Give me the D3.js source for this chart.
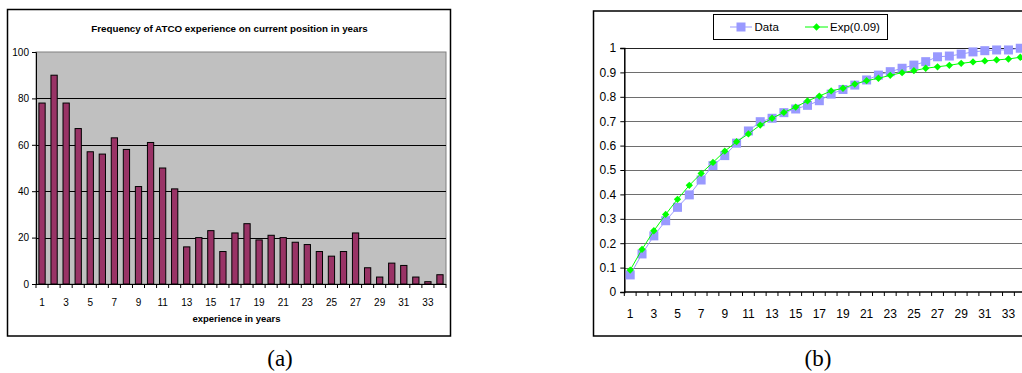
<!DOCTYPE html>
<html>
<head>
<meta charset="utf-8">
<script src="https://cdn.jsdelivr.net/npm/d3@7"></script>
<style>
  html, body { margin: 0; padding: 0; background: #fff; }
  svg { display: block; }
</style>
</head>
<body>
<svg id="fig" width="1022" height="373" font-family="Liberation Sans, Arial, sans-serif"></svg>
<script>
// ---- data ----
const years = d3.range(1, 35);               // experience in years, 1..34
const frequency = [78, 90, 78, 67, 57, 56, 63, 58, 42, 61, 50, 41, 16, 20, 23, 14, 22,
                   26, 19, 21, 20, 18, 17, 14, 12, 14, 22, 7, 3, 9, 8, 3, 1, 4];
const cumData = [0.070, 0.156, 0.230, 0.292, 0.347, 0.398, 0.459, 0.518, 0.559, 0.610,
                 0.660, 0.698, 0.712, 0.735, 0.750, 0.765, 0.784, 0.811, 0.830, 0.848,
                 0.869, 0.889, 0.903, 0.917, 0.930, 0.944, 0.964, 0.967, 0.975, 0.984,
                 0.989, 0.992, 0.992, 0.999];
const cumExp = [0.090, 0.175, 0.251, 0.318, 0.380, 0.437, 0.486, 0.531, 0.577, 0.616,
                0.648, 0.684, 0.712, 0.736, 0.758, 0.783, 0.803, 0.824, 0.835, 0.852,
                0.866, 0.876, 0.888, 0.899, 0.907, 0.917, 0.923, 0.929, 0.937, 0.943,
                0.947, 0.951, 0.955, 0.962];
const freqTicks = [0, 20, 40, 60, 80, 100];
const probTicks = [0, 0.1, 0.2, 0.3, 0.4, 0.5, 0.6, 0.7, 0.8, 0.9, 1];
const oddYears = years.filter(v => v % 2 === 1);
const titleA = "Frequency of ATCO experience on current position in years";
const xTitleA = "experience in years";
const legendNames = ["Data", "Exp(0.09)"];
const captions = ["(a)", "(b)"];

const svg = d3.select("#fig");

// ================= (a) frequency bar chart =================
{
  const g = svg.append("g");
  const L = 36, R = 446, T = 52, B = 284;

  g.append("rect").attr("x", 7.5).attr("y", 9.5).attr("width", 443).attr("height", 326.5)
    .attr("fill", "#fff").attr("stroke", "#000").attr("stroke-width", 1.5);

  const x = d3.scaleBand().domain(years).range([L, R]).paddingInner(0.48).paddingOuter(0.24);
  const y = d3.scaleLinear().domain([0, 100]).range([B, T]);

  g.append("rect").attr("x", L).attr("y", T).attr("width", R - L).attr("height", B - T)
    .attr("fill", "#c0c0c0").attr("stroke", "#808080").attr("stroke-width", 1);

  // horizontal gridlines
  g.selectAll("line.grid").data(freqTicks.filter(v => v > 0 && v < 100)).join("line")
    .attr("x1", L).attr("x2", R)
    .attr("y1", d => Math.round(y(d)) + 0.5).attr("y2", d => Math.round(y(d)) + 0.5)
    .attr("stroke", "#000").attr("stroke-width", 1);

  // bars
  g.selectAll("rect.bar").data(years).join("rect")
    .attr("x", d => x(d)).attr("width", x.bandwidth())
    .attr("y", (d, i) => y(frequency[i])).attr("height", (d, i) => B - y(frequency[i]))
    .attr("fill", "#993366").attr("stroke", "#000").attr("stroke-width", 1);

  // y axis
  const yAxis = g.append("g").attr("transform", `translate(${L},0)`)
    .call(d3.axisLeft(y).tickValues(freqTicks).tickSize(4).tickPadding(3));
  yAxis.attr("font-family", null).attr("font-size", 10);
  yAxis.select(".domain").attr("stroke", "#000");

  // x axis: ticks on category boundaries, labels on odd years
  const step = x.step();
  const xg = g.append("g");
  xg.append("line").attr("x1", L).attr("x2", R).attr("y1", B + 0.5).attr("y2", B + 0.5)
    .attr("stroke", "#000");
  xg.selectAll("line.tk").data(d3.range(0, years.length + 1)).join("line")
    .attr("x1", i => L + i * step).attr("x2", i => L + i * step)
    .attr("y1", B).attr("y2", B + 4).attr("stroke", "#000");
  xg.selectAll("text").data(oddYears).join("text")
    .attr("x", d => x(d) + x.bandwidth() / 2).attr("y", B + 22)
    .attr("text-anchor", "middle").attr("font-size", 10).text(d => d);

  g.append("text").attr("x", 229.5).attr("y", 32).attr("text-anchor", "middle")
    .attr("font-size", 9.8).attr("font-weight", "bold").text(titleA);
  g.append("text").attr("x", 236.5).attr("y", 322).attr("text-anchor", "middle")
    .attr("font-size", 9.5).attr("font-weight", "bold").text(xTitleA);
}

// ================= (b) cumulative distribution =================
{
  const g = svg.append("g");
  const L = 624.3, T = 48, B = 292;
  const step = 11.82;
  const R = L + step * years.length;

  g.append("rect").attr("x", 593.5).attr("y", 11).attr("width", 460).attr("height", 325)
    .attr("fill", "#fff").attr("stroke", "#000").attr("stroke-width", 1.5);

  const x = d3.scaleBand().domain(years).range([L, R]);
  const cx = d => x(d) + x.bandwidth() / 2;
  const y = d3.scaleLinear().domain([0, 1]).range([B, T]);

  // gridlines
  g.selectAll("line.grid").data(probTicks.filter(v => v > 0)).join("line")
    .attr("x1", L).attr("x2", R)
    .attr("y1", d => Math.round(y(d)) + 0.5).attr("y2", d => Math.round(y(d)) + 0.5)
    .attr("stroke", d => d === 1 ? "#222" : "#6e6e6e").attr("stroke-width", 1);

  // y axis
  const yAxis = g.append("g").attr("transform", `translate(${L},0)`)
    .call(d3.axisLeft(y).tickValues(probTicks).tickSize(4).tickPadding(4)
      .tickFormat(d => d3.format("")(+d.toFixed(1))));
  yAxis.attr("font-family", null).attr("font-size", 12);
  yAxis.select(".domain").attr("stroke", "#000").attr("stroke-width", 1.5);

  // x axis
  const xg = g.append("g");
  xg.append("line").attr("x1", L).attr("x2", R).attr("y1", B).attr("y2", B)
    .attr("stroke", "#000").attr("stroke-width", 1.5);
  xg.selectAll("line.tk").data(d3.range(0, years.length + 1)).join("line")
    .attr("x1", i => L + i * step).attr("x2", i => L + i * step)
    .attr("y1", B).attr("y2", B + 4).attr("stroke", "#000");
  xg.selectAll("text").data(oddYears).join("text")
    .attr("x", d => cx(d)).attr("y", B + 26)
    .attr("text-anchor", "middle").attr("font-size", 12).text(d => d);

  const line = d3.line().x((d, i) => cx(years[i])).y(d => y(d));

  // empirical cumulative series
  g.append("path").datum(cumData).attr("d", line)
    .attr("fill", "none").attr("stroke", "#9999ff").attr("stroke-width", 1);
  g.selectAll("rect.sq").data(cumData).join("rect")
    .attr("x", (d, i) => cx(years[i]) - 4.5).attr("y", d => y(d) - 4.5)
    .attr("width", 9).attr("height", 9).attr("fill", "#9999ff");

  // exponential fit series
  const diamond = d3.symbol().type(d3.symbolDiamond2).size(34);
  g.append("path").datum(cumExp).attr("d", line)
    .attr("fill", "none").attr("stroke", "#00ff00").attr("stroke-width", 1);
  g.selectAll("path.dm").data(cumExp).join("path")
    .attr("transform", (d, i) => `translate(${cx(years[i])},${y(d)})`)
    .attr("d", diamond).attr("fill", "#00ff00");

  // legend
  const lg = g.append("g");
  lg.append("rect").attr("x", 713.5).attr("y", 14.5).attr("width", 174).attr("height", 25)
    .attr("fill", "#fff").attr("stroke", "#000").attr("stroke-width", 1);
  lg.append("line").attr("x1", 730).attr("x2", 752).attr("y1", 27).attr("y2", 27)
    .attr("stroke", "#9999ff");
  lg.append("rect").attr("x", 736.5).attr("y", 22.5).attr("width", 9).attr("height", 9).attr("fill", "#9999ff");
  lg.append("text").attr("x", 754.5).attr("y", 31).attr("font-size", 11.5).text(legendNames[0]);
  lg.append("line").attr("x1", 805).attr("x2", 828).attr("y1", 27).attr("y2", 27)
    .attr("stroke", "#00ff00");
  lg.append("path").attr("transform", "translate(816.5,27)").attr("d", diamond).attr("fill", "#00ff00");
  lg.append("text").attr("x", 830).attr("y", 31).attr("font-size", 11.5).text(legendNames[1]);
}

// ================= captions =================
svg.selectAll("text.cap").data(captions).join("text")
  .attr("x", (d, i) => i === 0 ? 280 : 818).attr("y", 366)
  .attr("text-anchor", "middle")
  .attr("font-family", "Liberation Serif, Times New Roman, serif")
  .attr("font-size", 23).text(d => d);
</script>
</body>
</html>
